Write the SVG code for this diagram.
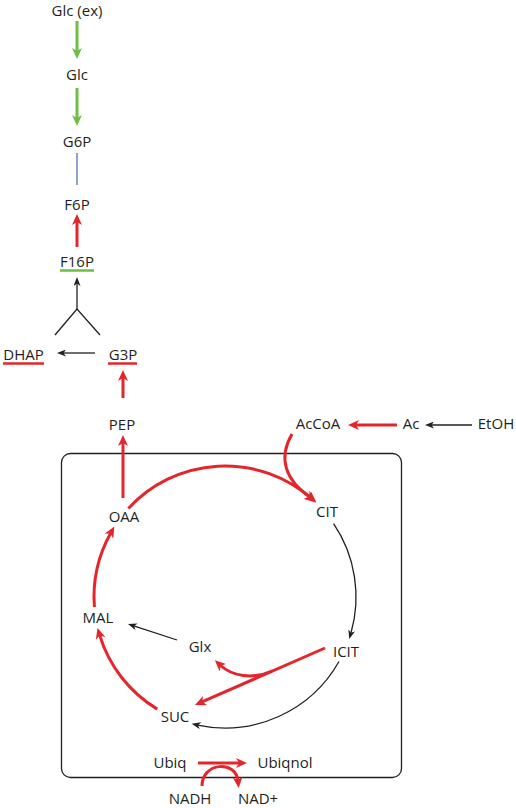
<svg xmlns="http://www.w3.org/2000/svg" width="516" height="808" viewBox="0 0 516 808">
<style>
text{font-family:"Open Sans","Noto Sans",sans-serif;font-size:15px;fill:#231f20;text-anchor:middle}
.r{fill:none;stroke:#e3262c;stroke-width:3;marker-end:url(#ar)}
.g{fill:none;stroke:#6cbe45;stroke-width:3;marker-end:url(#ag)}
.k{fill:none;stroke:#231f20;stroke-width:1.3;marker-end:url(#ak)}
.kl{fill:none;stroke:#231f20;stroke-width:1.3}
</style>
<defs>
<marker id="ar" viewBox="0 0 11 10" refX="4" refY="5" markerWidth="11" markerHeight="10" markerUnits="userSpaceOnUse" orient="auto"><path d="M0,0 L11,5 L0,10 L3,5 Z" fill="#e3262c"/></marker>
<marker id="ag" viewBox="0 0 11 10" refX="4" refY="5" markerWidth="11" markerHeight="10" markerUnits="userSpaceOnUse" orient="auto"><path d="M0,0 L11,5 L0,10 L3,5 Z" fill="#6cbe45"/></marker>
<marker id="ak" viewBox="0 0 9 7" refX="3" refY="3.5" markerWidth="9" markerHeight="7" markerUnits="userSpaceOnUse" orient="auto"><path d="M0,0 L9,3.5 L0,7 L2.5,3.5 Z" fill="#231f20"/></marker>
</defs>
<rect id="mito" x="61.5" y="453.5" width="340" height="324" rx="9" fill="none" stroke="#231f20" stroke-width="1.3"/>
<g id="connectors">
<line class="g" x1="77" y1="21" x2="77" y2="52"/>
<line class="g" x1="77" y1="88" x2="77" y2="119"/>
<line x1="77" y1="153" x2="77" y2="185" stroke="#5470b0" stroke-width="1.3"/>
<line class="r" x1="77" y1="247" x2="77" y2="221"/>
<line class="k" x1="77" y1="309" x2="77" y2="283"/>
<path class="kl" d="M55,335 L77,309 L100,335"/>
<line class="k" x1="95" y1="353" x2="63" y2="353"/>
<line class="r" x1="123" y1="398" x2="123" y2="377"/>
<line class="r" x1="123" y1="498" x2="123" y2="442"/>
<line class="r" x1="397" y1="425" x2="355" y2="425"/>
<line class="k" x1="472" y1="425" x2="431" y2="425"/>
<path class="r" d="M292,434 C278,458 285,480 310,497"/>
<path class="r" d="M128.4,508.5 A131,131 0 0 1 311,498.1"/>
<path class="k" d="M333.6,523.7 A131,131 0 0 1 350.9,633.3"/>
<path class="k" d="M339,661.5 A131,131 0 0 1 197.5,725.1"/>
<path class="r" d="M157.3,709.1 A131,131 0 0 1 99.5,634.6"/>
<path class="r" d="M94.4,607 A131,131 0 0 1 110.9,532.7"/>
<line class="r" x1="325" y1="648" x2="201.4" y2="702.2"/>
<path class="r" d="M272,671 C252,680 232,676 220,665"/>
<line class="k" x1="177" y1="640" x2="133.7" y2="625.9"/>
<line class="r" x1="198" y1="763" x2="240" y2="763"/>
<path class="r" d="M202,786 C202,762 236,760 238,781"/>
</g>
<g id="n-glcex"><text x="77" y="16">Glc (ex)</text></g>
<g id="n-glc"><text x="77" y="80">Glc</text></g>
<g id="n-g6p"><text x="77" y="147">G6P</text></g>
<g id="n-f6p"><text x="77" y="210">F6P</text></g>
<g id="n-f16p"><text x="77" y="267">F16P</text><line x1="60" y1="270.5" x2="94" y2="270.5" stroke="#6cbe45" stroke-width="2.5"/></g>
<g id="n-dhap"><text x="23.5" y="360">DHAP</text><line x1="3" y1="363.5" x2="44" y2="363.5" stroke="#e3262c" stroke-width="2.5"/></g>
<g id="n-g3p"><text x="123" y="360">G3P</text><line x1="108" y1="363.5" x2="137" y2="363.5" stroke="#e3262c" stroke-width="2.5"/></g>
<g id="n-pep"><text x="122" y="430">PEP</text></g>
<g id="n-accoa"><text x="318" y="429">AcCoA</text></g>
<g id="n-ac"><text x="411" y="429">Ac</text></g>
<g id="n-etoh"><text x="496" y="429">EtOH</text></g>
<g id="n-oaa"><text x="124" y="522">OAA</text></g>
<g id="n-cit"><text x="327" y="517">CIT</text></g>
<g id="n-mal"><text x="98" y="623">MAL</text></g>
<g id="n-glx"><text x="200" y="652">Glx</text></g>
<g id="n-icit"><text x="346" y="657">ICIT</text></g>
<g id="n-suc"><text x="175" y="722">SUC</text></g>
<g id="n-ubiq"><text x="170" y="768">Ubiq</text></g>
<g id="n-ubiqnol"><text x="285" y="768">Ubiqnol</text></g>
<g id="n-nadh"><text x="190" y="804">NADH</text></g>
<g id="n-nad"><text x="258" y="804">NAD+</text></g>
</svg>
